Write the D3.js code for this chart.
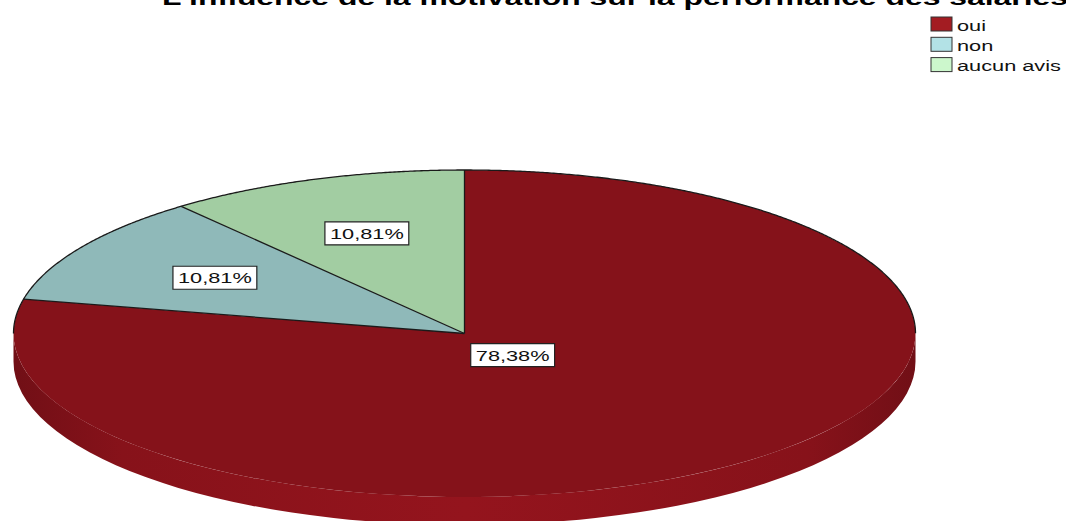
<!DOCTYPE html>
<html>
<head>
<meta charset="utf-8">
<script src="https://cdn.jsdelivr.net/npm/d3@7"></script>
<style>
  html, body { margin: 0; padding: 0; background: #ffffff; }
  svg { display: block; }
  text { font-family: "Liberation Sans", Arial, sans-serif; }
</style>
</head>
<body>
<svg id="chart" width="1066" height="521"></svg>
<script>
// Répartition des réponses (en %)
const categories = ["oui", "non", "aucun avis"];
const percentages = [78.38, 10.81, 10.81];
const titleText = "L'influence de la motivation sur la performance des salariés";

// Couleurs des secteurs et de la légende
const sliceColors = ["#85121a", "#8fb9b9", "#a2cda2"];
const legendColors = ["#a31c22", "#b3e2e6", "#ccf7cc"];

// Mise en page
const W = 1066, H = 521;
const cx = 464.5, cy = 333.5, rx = 451, ry = 163.5, depth = 28;
const SX = 1.45;                     // étirement horizontal des textes
const labelRadius = [0.17, 0.65, 0.65];

const svg = d3.select("#chart");
const defs = svg.append("defs");

const pie = d3.pie().sort(null).value(d => d);
const arcs = pie(percentages);

const pt = (a, dy = 0) => [cx + rx * Math.sin(a), cy - ry * Math.cos(a) + dy];
const fmt = v => d3.format(".2f")(v).replace(".", ",") + "%";

// Face latérale (partie avant visible)
const sides = svg.append("g");
arcs.forEach((d, i) => {
  const a = Math.max(d.startAngle, Math.PI / 2);
  const b = Math.min(d.endAngle, 3 * Math.PI / 2);
  if (a >= b) return;
  const base = d3.color(sliceColors[i]);
  const gid = "side" + i;
  const g = defs.append("linearGradient").attr("id", gid)
    .attr("gradientUnits", "userSpaceOnUse")
    .attr("x1", cx - rx).attr("x2", cx + rx).attr("y1", 0).attr("y2", 0);
  [[0, base.darker(0.45)], [0.12, base.brighter(0.05)], [0.5, base.brighter(0.3)],
   [0.88, base.brighter(0.05)], [1, base.darker(0.45)]]
    .forEach(([o, c]) => g.append("stop").attr("offset", o).attr("stop-color", c.formatHex()));
  const p0 = pt(a), p1 = pt(b), q1 = pt(b, depth), q0 = pt(a, depth);
  const large = (b - a) > Math.PI ? 1 : 0;
  sides.append("path")
    .attr("d", `M${p0}A${rx},${ry} 0 ${large} 1 ${p1}L${q1}A${rx},${ry} 0 ${large} 0 ${q0}Z`)
    .attr("fill", `url(#${gid})`);
});

// Face supérieure
const topFace = svg.append("g")
  .attr("transform", `translate(${cx},${cy}) scale(1,${ry / rx})`);
const arcGen = d3.arc().innerRadius(0).outerRadius(rx);
topFace.selectAll("path.slice").data(arcs).join("path")
  .attr("class", "slice")
  .attr("d", arcGen)
  .attr("fill", (d, i) => sliceColors[i]);

// Contour arrière et séparations des secteurs
const backEdge = d3.lineRadial().angle(a => a).radius(rx);
topFace.append("path")
  .attr("d", backEdge(d3.range(-Math.PI / 2, Math.PI / 2 + 0.001, 0.005)))
  .attr("fill", "none").attr("stroke", "#1a1a1a").attr("stroke-width", 1.3)
  .attr("vector-effect", "non-scaling-stroke");
topFace.selectAll("line.sep").data(arcs).join("line")
  .attr("class", "sep")
  .attr("x1", 0).attr("y1", 0)
  .attr("x2", d => rx * Math.sin(d.startAngle))
  .attr("y2", d => -rx * Math.cos(d.startAngle))
  .attr("stroke", "#1a1a1a").attr("stroke-width", 1.3)
  .attr("vector-effect", "non-scaling-stroke");

// Étiquettes de pourcentage
arcs.forEach((d, i) => {
  const mid = (d.startAngle + d.endAngle) / 2;
  const f = labelRadius[i];
  const x = cx + f * rx * Math.sin(mid);
  const y = cy - f * ry * Math.cos(mid);
  const g = svg.append("g").attr("transform", `translate(${x},${y}) scale(${SX},1)`);
  const t = g.append("text")
    .attr("text-anchor", "middle").attr("dy", "0.36em")
    .attr("font-size", 15).attr("fill", "#111")
    .text(fmt(d.data));
  const w = t.node().getComputedTextLength() + 7;
  g.insert("rect", "text")
    .attr("x", -w / 2).attr("y", -11.5).attr("width", w).attr("height", 23)
    .attr("fill", "#ffffff").attr("stroke", "#222").attr("stroke-width", 1.2)
    .attr("vector-effect", "non-scaling-stroke");
});

// Titre
svg.append("g").attr("transform", `translate(162,5) scale(${SX},1)`)
  .append("text")
  .attr("font-size", 22).attr("font-weight", "bold").attr("fill", "#000")
  .text(titleText);

// Légende
const legend = svg.append("g").attr("transform", "translate(931,17)");
const rows = legend.selectAll("g").data(categories).join("g")
  .attr("transform", (d, i) => `translate(0,${i * 20.3})`);
rows.append("rect")
  .attr("width", 21).attr("height", 14)
  .attr("fill", (d, i) => legendColors[i])
  .attr("stroke", "#333").attr("stroke-width", 1);
rows.append("g").attr("transform", `translate(26,13.5) scale(${SX},1)`)
  .append("text")
  .attr("font-size", 15).attr("fill", "#111")
  .text(d => d);
</script>
</body>
</html>
